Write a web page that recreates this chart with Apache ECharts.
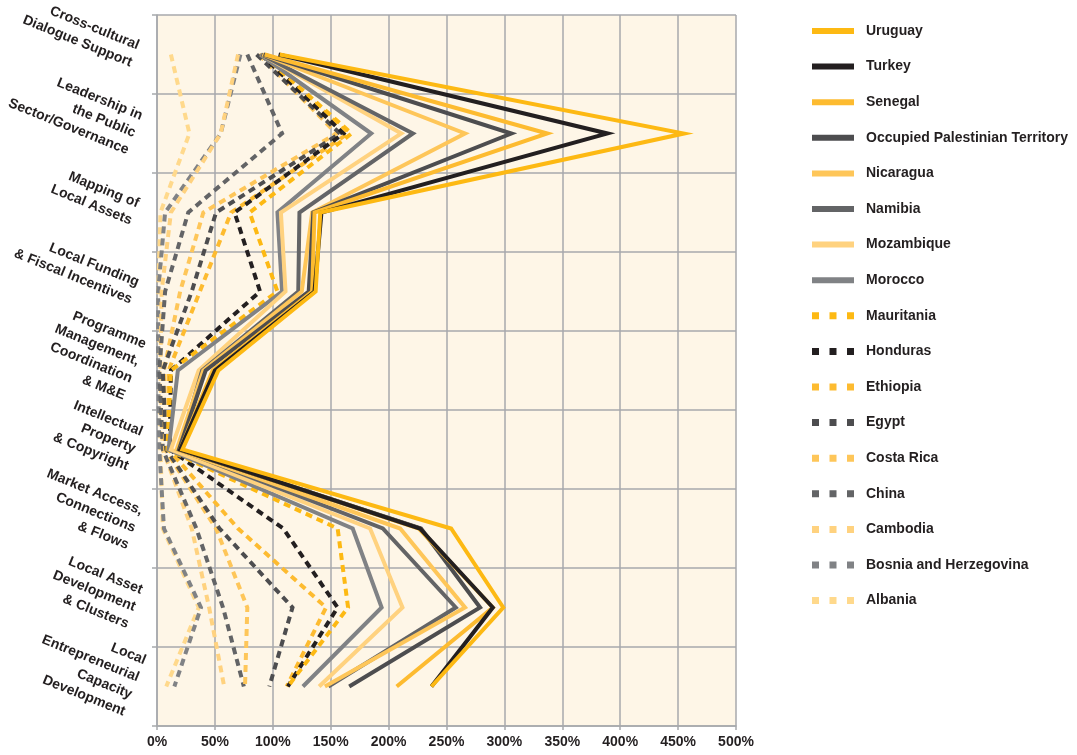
<!DOCTYPE html>
<html><head><meta charset="utf-8">
<script src="https://cdn.jsdelivr.net/npm/echarts@6/dist/echarts.min.js"></script>
<style>html,body{margin:0;padding:0;background:#fff}#c{width:1077px;height:755px}</style>
</head><body><div id="c"></div>
<script>
const categories = [
  "Cross-cultural\nDialogue Support",
  "Leadership in\nthe Public\nSector/Governance",
  "Mapping of\nLocal Assets",
  "Local Funding\n& Fiscal Incentives",
  "Programme\nManagement,\nCoordination\n& M&E",
  "Intellectual\nProperty\n& Copyright",
  "Market Access,\nConnections\n& Flows",
  "Local Asset\nDevelopment\n& Clusters",
  "Local\nEntrepreneurial\nCapacity\nDevelopment"
];
const countries = ["Uruguay","Turkey","Senegal","Occupied Palestinian Territory","Nicaragua","Namibia","Mozambique","Morocco",
  "Mauritania","Honduras","Ethiopia","Egypt","Costa Rica","China","Cambodia","Bosnia and Herzegovina","Albania"];
const colors = ["#FDB913","#231F20","#FDBB30","#4D4D4F","#FEC659","#636466","#FFD27F","#808285",
  "#FDB913","#231F20","#FDBB30","#4D4D4F","#FEC659","#636466","#FFD27F","#808285","#FFD98C"];
const dashed = [false,false,false,false,false,false,false,false,true,true,true,true,true,true,true,true,true];

const uruguay    = [106, 455, 141, 137, 53, 22, 254, 299, 237];
const turkey     = [105, 389, 142, 136, 50, 20, 227, 290, 237];
const senegal    = [93, 337, 136, 134, 48, 20, 226, 290, 207];
const opt        = [92, 306, 135, 131, 42, 19, 228, 279, 166];
const nicaragua  = [91, 266, 134, 125, 40, 17, 210, 266, 145];
const namibia    = [90, 221, 123, 122, 39, 19, 195, 258, 148];
const mozambique = [90, 211, 107, 111, 36, 12, 184, 212, 140];
const morocco    = [89, 185, 104, 108, 18, 10, 169, 194, 126];
const mauritania = [91, 168, 80, 104, 12, 9, 156, 165, 113];
const honduras   = [90, 161, 67, 89, 12, 11, 109, 156, 113];
const ethiopia   = [90, 165, 64, 37, 10, 10, 70, 146, 112];
const egypt      = [86, 158, 51, 30, 5, 8, 54, 117, 97];
const costaRica  = [88, 155, 40, 20, 6, 7, 51, 78, 76];
const china      = [78, 108, 27, 7, 2, 5, 34, 57, 75];
const cambodia   = [70, 55, 12, 4, 3, 5, 30, 45, 58];
const bosnia     = [72, 55, 7, 1, 1, 2, 6, 38, 15];
const albania    = [12, 28, 3, 1, 2, 3, 5, 36, 8];

const values = [uruguay, turkey, senegal, opt, nicaragua, namibia, mozambique, morocco,
  mauritania, honduras, ethiopia, egypt, costaRica, china, cambodia, bosnia, albania];

const FONT = "Liberation Sans";
const TXT = "#231F20";
const GRID = "#A7A9AC";
const solidIcon = "path://M0,0h42v6h-42z";
const dashIcon = "path://M0,0h7v7h-7z M17.5,0h7v7h-7z M35,0h7v7h-7z";

const series = [];
for (let i = countries.length - 1; i >= 0; i--) {
  series.push({
    name: countries[i],
    type: "line",
    symbol: "none",
    color: colors[i],
    data: values[i].map((v, k) => [v, categories[k]]),
    lineStyle: { width: 4, color: colors[i], type: dashed[i] ? [7, 5] : "solid", cap: "butt", join: "miter" },
    z: 2
  });
}

const chart = echarts.init(document.getElementById("c"));
chart.setOption({
  animation: false,
  backgroundColor: "#ffffff",
  grid: { left: 157, top: 15, right: 341, bottom: 29, containLabel: false, outerBoundsMode: "none",
    show: true, backgroundColor: "#FEF6E7", borderWidth: 0 },
  xAxis: {
    type: "value", min: 0, max: 500, interval: 50,
    axisLine: { show: true, lineStyle: { color: GRID, width: 1.5 } },
    axisTick: { show: true, length: 4, lineStyle: { color: GRID, width: 1.5 } },
    splitLine: { show: true, lineStyle: { color: GRID, width: 1.5 } },
    axisLabel: { formatter: "{value}%", fontFamily: FONT, fontSize: 14, fontWeight: "bold", color: TXT, margin: 9,
      showMinLabel: true, showMaxLabel: true }
  },
  yAxis: {
    type: "category", data: categories, inverse: true, boundaryGap: true,
    axisLine: { show: true, lineStyle: { color: GRID, width: 1.5 } },
    axisTick: { show: true, length: 5, lineStyle: { color: GRID, width: 1.5 } },
    splitLine: { show: true, lineStyle: { color: GRID, width: 1.5 } },
    axisLabel: { rotate: -22, align: "right", verticalAlign: "middle", margin: 22, lineHeight: 18.5,
      showMinLabel: true, showMaxLabel: true, hideOverlap: false, interval: 0,
      fontFamily: FONT, fontSize: 14, fontWeight: "bold", color: TXT, padding: [12, 0, 0, 0] }
  },
  legend: {
    orient: "vertical", left: 812, top: 23, padding: 0, itemWidth: 42, itemHeight: 7, itemGap: 19.6,
    textStyle: { fontFamily: FONT, fontSize: 14, fontWeight: "bold", color: TXT, lineHeight: 16, padding: [0, 0, 0, 7] },
    itemStyle: { borderWidth: 0 },
    data: countries.map((n, i) => ({ name: n, icon: dashed[i] ? dashIcon : solidIcon }))
  },
  series: series
});
</script>
</body></html>
